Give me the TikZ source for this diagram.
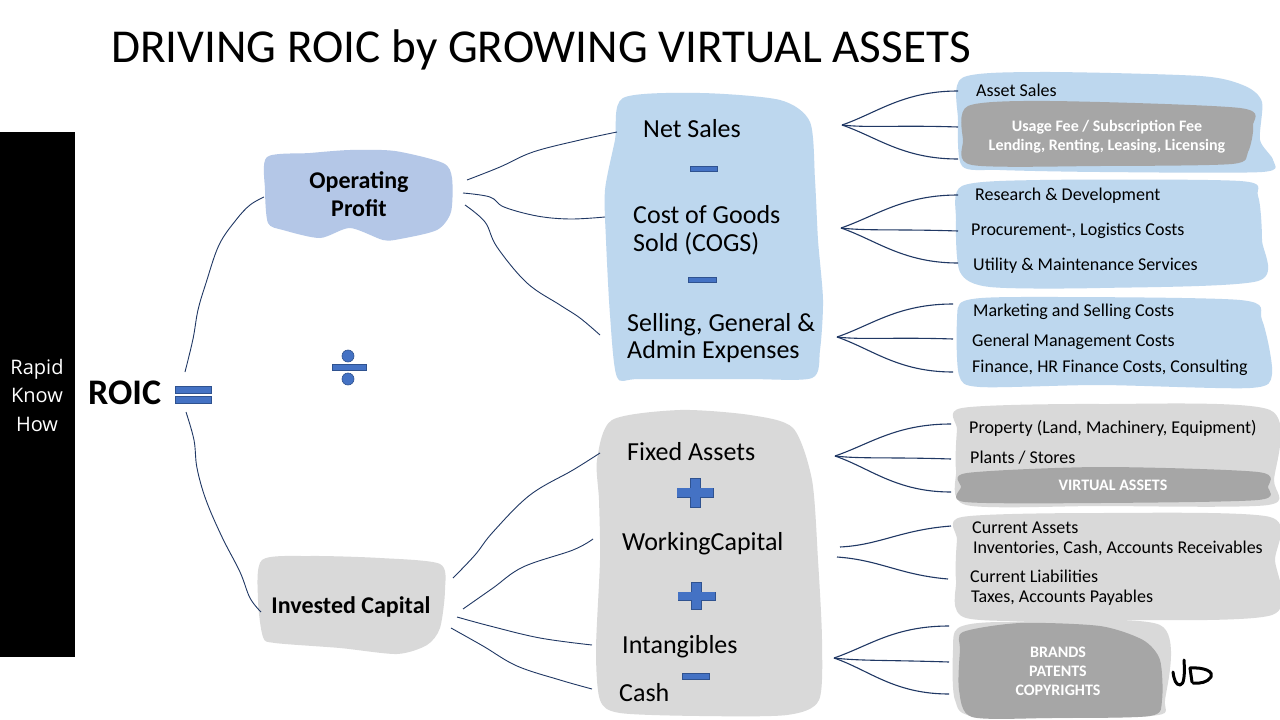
\documentclass[tikz,border=0pt]{standalone}
\usepackage{fontspec}
\setmainfont{Carlito}
\newfontfamily\osans{Open Sans}
\usetikzlibrary{calc}
\definecolor{lblue}{HTML}{BDD7EE}
\definecolor{opblue}{HTML}{B4C7E7}
\definecolor{lgray}{HTML}{D9D9D9}
\definecolor{dgray}{HTML}{A6A6A6}
\definecolor{navy}{HTML}{203864}
\definecolor{symblue}{HTML}{4472C4}
\definecolor{symedge}{HTML}{2F528F}
\tikzset{
  conn/.style={draw=navy, line width=0.9pt},
  fanln/.style={draw=navy, line width=1.1pt},
  sym/.style={fill=symblue, draw=symedge, line width=0.6pt},
  item/.style={anchor=base west, inner sep=0pt, font=\fontsize{18}{20}\selectfont},
  mid/.style={anchor=base west, inner sep=0pt, font=\fontsize{26}{30}\selectfont},
  hl/.style={anchor=base, inner sep=0pt, text=white, font=\bfseries\fontsize{16}{18}\selectfont},
  hlb/.style={anchor=base, inner sep=0pt, text=white, font=\bfseries\fontsize{16}{18}\selectfont},
  boldlbl/.style={anchor=base, inner sep=0pt, font=\bfseries\fontsize{24}{28}\selectfont},
  blob/.style={smooth cycle, tension=0.45},
  sig/.style={line width=3pt, line cap=round, line join=round},
}
\newcommand\drawfan[4]{%
  \draw[fanln] (#1) .. controls ($(#1)+(35,-12)$) and ($(#2)+(-55,0)$) .. (#2);
  \draw[fanln] (#1) .. controls ($(#1)+(25,3)$) and ($(#3)+(-60,-2)$) .. (#3);
  \draw[fanln] (#1) .. controls ($(#1)+(35,12)$) and ($(#4)+(-55,0)$) .. (#4);
}
\begin{document}
\begin{tikzpicture}[x=1pt,y=-1pt]
\useasboundingbox (0,0) rectangle (1280,720);
\fill[white] (0,0) rectangle (1280,720);

% title
\node[anchor=base west, inner sep=0pt, font=\fontsize{47.2}{56}\selectfont] (title) at (111,62) {DRIVING ROIC by GROWING VIRTUAL ASSETS};

% left bar
\fill[black] (0,132) rectangle (75,657);
\node[anchor=base, inner sep=0pt, text=white, font=\osans\fontsize{20}{24}\selectfont] (rk1) at (37,374) {Rapid};
\node[anchor=base, inner sep=0pt, text=white, font=\osans\fontsize{20}{24}\selectfont] (rk2) at (37,402) {Know};
\node[anchor=base, inner sep=0pt, text=white, font=\osans\fontsize{20}{24}\selectfont] (rk3) at (37,431) {How};

% ROIC
\node[anchor=base west, inner sep=0pt, font=\bfseries\fontsize{36}{40}\selectfont] (roic) at (88,404) {ROIC};
\draw[sym] (175,386) rectangle (211,393);
\draw[sym] (175,396) rectangle (211,403);

% division sign
\draw[sym] (332,364) rectangle (366,370);
\draw[sym] (348,356) circle (6);
\draw[sym] (348,379) circle (6);

% blobs
\fill[opblue] plot[blob] coordinates {(267,157) (310,153) (350,150) (395,151) (443,163) (452,178) (451,212) (437,230) (400,239) (383,240) (350,228) (320,238) (283,230) (268,223) (265,190)};
\fill[lgray] plot[blob] coordinates {(262,560) (310,556) (380,558) (440,564) (445,590) (440,628) (427,645) (397,654) (340,648) (275,643) (263,637) (258,600)};
\fill[lblue] plot[blob] coordinates {(623,98) (700,93) (780,100) (810,122) (815,180) (818,240) (823,300) (820,350) (812,378) (747,379) (640,379) (617,377) (610,315) (606,240) (605,190) (615,140)};
\fill[lgray] plot[blob] coordinates {(612,420) (680,410) (750,415) (793,428) (812,480) (818,560) (822,640) (819,700) (787,715) (700,716) (620,713) (600,700) (596,650) (600,560) (599,500) (597,460)};

% right blobs
\fill[lblue] plot[blob] coordinates {(962,78) (1040,72) (1200,76) (1245,86) (1262,102) (1260,140) (1273,160) (1262,172) (1100,172) (1000,170) (962,166) (958,120)};
\fill[dgray] plot[blob] coordinates {(968,106) (1050,101) (1240,108) (1253,126) (1248,152) (1232,164) (1100,166) (972,165) (963,140)};
\fill[lblue] plot[blob] coordinates {(962,186) (1040,180) (1240,181) (1258,196) (1262,240) (1258,281) (1100,288) (990,287) (960,272) (956,220)};
\fill[lblue] plot[blob] coordinates {(964,301) (1020,297) (1240,300) (1262,320) (1272,374) (1250,388) (1100,385) (980,387) (959,375) (957,320)};
\fill[lgray] plot[blob] coordinates {(962,408) (1100,404) (1270,410) (1274,480) (1268,505) (1100,506) (966,505) (956,470) (957,430)};
\fill[dgray] plot[blob] coordinates {(967,473) (1100,467) (1258,472) (1268,487) (1258,500) (1100,503) (965,502) (961,487)};
\fill[lgray] plot[blob] coordinates {(962,517) (1100,513) (1270,517) (1275,560) (1272,615) (1100,620) (966,618) (956,580) (957,540)};
\fill[lgray] plot[blob] coordinates {(958,628) (1000,622) (1160,625) (1165,700) (1150,716) (980,717) (955,700) (953,650)};
\fill[dgray] plot[blob] coordinates {(963,632) (1020,623) (1100,626) (1143,640) (1160,660) (1162,700) (1150,716) (1050,718) (972,717) (959,690) (960,650)};

% symbols in middle blobs
\draw[sym] (690,166) rectangle (717,171);
\draw[sym] (688,277) rectangle (716,282);
\draw[sym] (677,488) rectangle (713,497);
\draw[sym] (690,478) rectangle (700,507);
\fill[symblue] (677.3,488.3) rectangle (712.7,496.7);
\draw[sym] (678,592) rectangle (715,600);
\draw[sym] (691,582) rectangle (701,609);
\fill[symblue] (678.3,592.3) rectangle (714.7,599.7);
\draw[sym] (682,673) rectangle (709,679);

% labels
\node[boldlbl] (op1) at (359,188) {Operating};
\node[boldlbl] (op2) at (359,216) {Profit};
\node[boldlbl] (ic) at (351,613) {Invested Capital};

\node[mid] (ns) at (643,137) {Net Sales};
\node[mid] (cg1) at (633,223) {Cost of Goods};
\node[mid] (cg2) at (633,251) {Sold (COGS)};
\node[mid] (sg1) at (627,331) {Selling, General \&};
\node[mid] (sg2) at (627,358) {Admin Expenses};
\node[mid] (fa) at (627,460) {Fixed Assets};
\node[mid] (wc) at (622,550) {WorkingCapital};
\node[mid] (intg) at (622,653) {Intangibles};
\node[mid] (cash) at (619,701) {Cash};

\node[item] (as) at (976,96) {Asset Sales};
\node[hl] (uf1) at (1107,131) {Usage Fee / Subscription Fee};
\node[hl] (uf2) at (1107,150) {Lending, Renting, Leasing, Licensing};
\node[item] (rd) at (975,200) {Research \& Development};
\node[item] (pl) at (971,235) {Procurement-, Logistics Costs};
\node[item] (um) at (973,270) {Utility \& Maintenance Services};
\node[item] (ms) at (973,316) {Marketing and Selling Costs};
\node[item] (gm) at (972,346) {General Management Costs};
\node[item] (fh) at (972,372) {Finance, HR Finance Costs, Consulting};
\node[item] (pr) at (969,433) {Property (Land, Machinery, Equipment)};
\node[item] (ps) at (970,463) {Plants / Stores};
\node[hlb] (va) at (1113,490) {VIRTUAL ASSETS};
\node[item] (ca1) at (972,533) {Current Assets};
\node[item] (ca2) at (973,553) {Inventories, Cash, Accounts Receivables};
\node[item] (cl1) at (970,582) {Current Liabilities};
\node[item] (cl2) at (971,602) {Taxes, Accounts Payables};
\node[hlb] (br) at (1058,657) {BRANDS};
\node[hlb] (pa) at (1058,676) {PATENTS};
\node[hlb] (co) at (1058,695) {COPYRIGHTS};

% connector end points
\coordinate (roicT) at (185,372);
\coordinate (roicB) at (186,412);
\coordinate (opL) at (264,197);
\coordinate (icL) at (261,612);
\coordinate (opR1) at (467,180);
\coordinate (opR2) at (463,193);
\coordinate (opR3) at (465,205);
\coordinate (nsL) at (617,132);
\coordinate (cgL) at (605,217);
\coordinate (sgL) at (600,335);
\coordinate (icR1) at (453,578);
\coordinate (icR2) at (463,609);
\coordinate (icR3) at (457,617);
\coordinate (icR4) at (451,628);
\coordinate (faL) at (600,453);
\coordinate (wcL) at (593,539);
\coordinate (inL) at (592,645);
\coordinate (caL) at (592,689);

% main connectors
\draw[conn] plot[smooth, tension=0.6] coordinates {(roicT) (193,339) (198,310) (206,283) (219,245) (236,220) (250,205) (opL)};
\draw[conn] plot[smooth, tension=0.6] coordinates {(roicB) (194,440) (197,468) (206,500) (222,537) (240,572) (250,598) (icL)};
\draw[conn] plot[smooth, tension=0.6] coordinates {(opR1) (500,167) (533,152) (580,140) (nsL)};
\draw[conn] plot[smooth, tension=0.6] coordinates {(opR2) (490,197) (504,207) (537,216) (570,219) (cgL)};
\draw[conn] plot[smooth, tension=0.6] coordinates {(opR3) (485,222) (497,247) (527,283) (560,305) (580,318) (sgL)};
\draw[conn] plot[smooth, tension=0.6] coordinates {(icR1) (475,555) (493,532) (530,495) (573,470) (faL)};
\draw[conn] plot[smooth, tension=0.6] coordinates {(icR2) (493,588) (523,567) (573,550) (wcL)};
\draw[conn] plot[smooth, tension=0.6] coordinates {(icR3) (490,626) (540,638) (inL)};
\draw[conn] plot[smooth, tension=0.6] coordinates {(icR4) (483,646) (517,666) (560,680) (caL)};

% fans
\coordinate (nsF) at (842,125);
\coordinate (nsE1) at (958,91);
\coordinate (nsE2) at (958,127);
\coordinate (nsE3) at (958,159);
\drawfan{nsF}{nsE1}{nsE2}{nsE3}
\coordinate (cgF) at (841,228);
\coordinate (cgE1) at (958,195);
\coordinate (cgE2) at (958,231);
\coordinate (cgE3) at (958,263);
\drawfan{cgF}{cgE1}{cgE2}{cgE3}
\coordinate (sgF) at (837,337);
\coordinate (sgE1) at (953,304);
\coordinate (sgE2) at (953,339);
\coordinate (sgE3) at (953,372);
\drawfan{sgF}{sgE1}{sgE2}{sgE3}
\coordinate (faF) at (835,456);
\coordinate (faE1) at (951,424);
\coordinate (faE2) at (951,459);
\coordinate (faE3) at (951,492);
\drawfan{faF}{faE1}{faE2}{faE3}
\coordinate (inF) at (834,658);
\coordinate (inE1) at (949,626);
\coordinate (inE2) at (949,662);
\coordinate (inE3) at (949,694);
\drawfan{inF}{inE1}{inE2}{inE3}
\coordinate (wcF1) at (840,547);
\coordinate (wcF2) at (837,557);
\coordinate (wcE1) at (951,526);
\coordinate (wcE2) at (948,579);
\draw[fanln] (wcF1) .. controls (880,545) and (900,530) .. (wcE1);
\draw[fanln] (wcF2) .. controls (880,560) and (900,575) .. (wcE2);

% signature
\draw[sig] (1173,672) .. controls (1174,680) and (1176,685) .. (1180,685) .. controls (1184,685) and (1185,675) .. (1184,660);
\draw[sig] (1190,668) -- (1192,682);
\draw[sig] (1190,668) .. controls (1205,667) and (1214,672) .. (1211,677) .. controls (1208,682) and (1200,684) .. (1193,683);
\end{tikzpicture}
\end{document}
